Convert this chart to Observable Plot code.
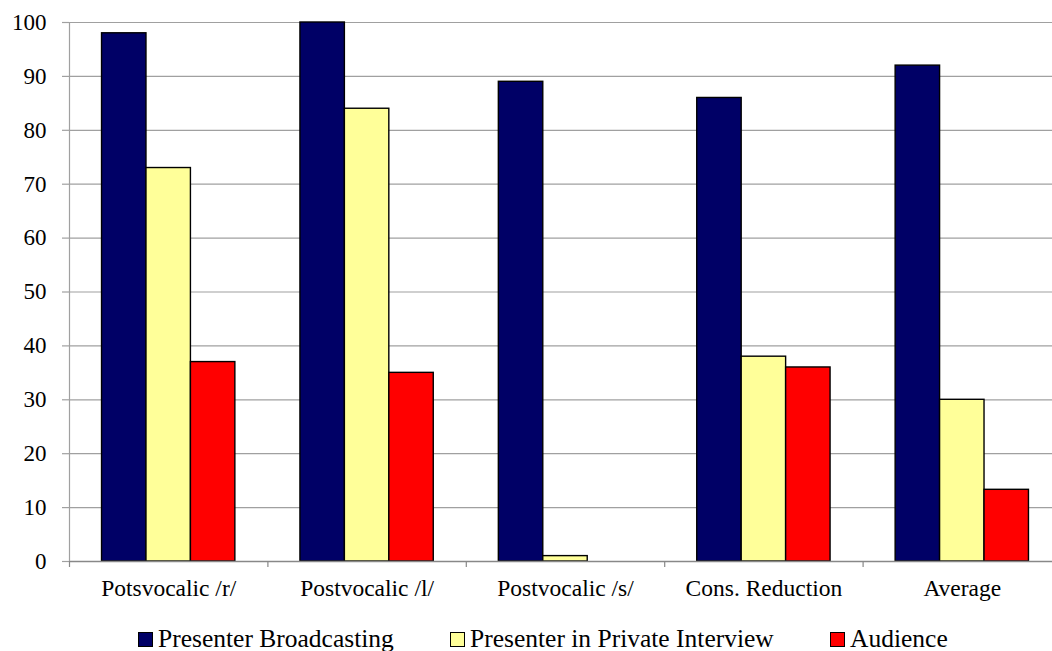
<!DOCTYPE html>
<html>
<head>
<meta charset="utf-8">
<script src="https://cdn.jsdelivr.net/npm/d3@7"></script>
<script src="https://cdn.jsdelivr.net/npm/@observablehq/plot@0.6"></script>
<style>
  html, body { margin: 0; padding: 0; background: #fff; overflow: hidden; }
  body { position: relative; width: 1052px; height: 651px; font-family: "Liberation Serif", "Times New Roman", serif; }
  #chart svg { display: block; max-width: none !important; }
  #chart svg text { font-family: "Liberation Serif", "Times New Roman", serif; }
  .legend {
    position: absolute; left: 0; top: 626px; width: 1052px; height: 26px;
    font-size: 25.5px; line-height: 26px; color: #000; white-space: nowrap;
  }
  .legend .item { position: absolute; top: 0; display: flex; align-items: center; }
  .legend .swatch {
    box-sizing: border-box; width: 15px; height: 15px; border: 1px solid #000; margin-right: 5px;
  }
</style>
</head>
<body>
<div id="chart"></div>
<div class="legend" id="legend"></div>
<script>
// Categories along the x axis
const categories = ["Potsvocalic /r/", "Postvocalic /l/", "Postvocalic /s/", "Cons. Reduction", "Average"];
// Series names (legend order)
const seriesNames = ["Presenter Broadcasting", "Presenter in Private Interview", "Audience"];
// Values per series, one per category
const broadcasting = [98, 100, 89, 86, 92];
const privateInterview = [73, 84, 1, 38, 30];
const audience = [37, 35, 0, 36, 13.3];
// y-axis ticks
const yTicks = [0, 10, 20, 30, 40, 50, 60, 70, 80, 90, 100];

const seriesValues = [broadcasting, privateInterview, audience];
const seriesColors = ["#000066", "#ffff99", "#ff0000"];

// Each category occupies one unit on a linear x scale; the three bars of a group
// sit side by side in the middle of that unit.
const barWidth = 0.224;
const groupOffset = (1 - barWidth * seriesNames.length) / 2;

const rows = [];
categories.forEach((cat, i) => {
  seriesValues.forEach((vals, j) => {
    const v = vals[i];
    if (v > 0) {
      rows.push({
        category: cat,
        series: seriesNames[j],
        value: v,
        x1: i + groupOffset + j * barWidth,
        x2: i + groupOffset + (j + 1) * barWidth
      });
    }
  });
});

const boundaries = d3.range(categories.length + 1);
const centers = categories.map((_, i) => i + 0.5);

const plot = Plot.plot({
  width: 1061,
  height: 612,
  marginLeft: 69,
  marginRight: 0,
  marginTop: 22,
  marginBottom: 51,
  style: { fontFamily: "Liberation Serif, Times New Roman, serif", fontSize: "23px", color: "#000", background: "#fff" },
  x: { type: "linear", domain: [0, categories.length], axis: null },
  y: { domain: [0, 100], axis: null },
  color: { domain: seriesNames, range: seriesColors },
  marks: [
    Plot.gridY(yTicks, { stroke: "#a0a0a0", strokeOpacity: 1, strokeWidth: 1.2 }),
    Plot.rectY(rows, {
      x1: "x1", x2: "x2", y: "value",
      fill: "series", stroke: "#000", strokeWidth: 1.4
    }),
    Plot.ruleY([0], { stroke: "#888", strokeWidth: 1.4 }),
    Plot.ruleX([0], { y1: 0, y2: 100, stroke: "#a0a0a0", strokeWidth: 1.2 }),
    Plot.axisY({
      ticks: yTicks, tickSize: 7, tickPadding: 16, label: null,
      stroke: "#a0a0a0", strokeWidth: 1.2, fill: "#000", fontSize: 23
    }),
    Plot.axisX({
      ticks: boundaries, tickSize: 6, tickFormat: () => "", label: null,
      stroke: "#888", strokeWidth: 1.2
    }),
    Plot.axisX({
      ticks: centers, tickSize: 0, tickPadding: 18, label: null,
      tickFormat: (d) => categories[Math.floor(d)], fill: "#000", fontSize: 23.5
    })
  ]
});
plot.style.maxWidth = "none";
document.getElementById("chart").appendChild(plot);

// Legend below the plot, one entry per series
const legendLeft = [138, 450, 830];
const legend = document.getElementById("legend");
seriesNames.forEach((name, j) => {
  const item = document.createElement("div");
  item.className = "item";
  item.style.left = legendLeft[j] + "px";
  const sw = document.createElement("span");
  sw.className = "swatch";
  sw.style.background = seriesColors[j];
  const label = document.createElement("span");
  label.textContent = name;
  item.appendChild(sw);
  item.appendChild(label);
  legend.appendChild(item);
});
</script>
</body>
</html>
